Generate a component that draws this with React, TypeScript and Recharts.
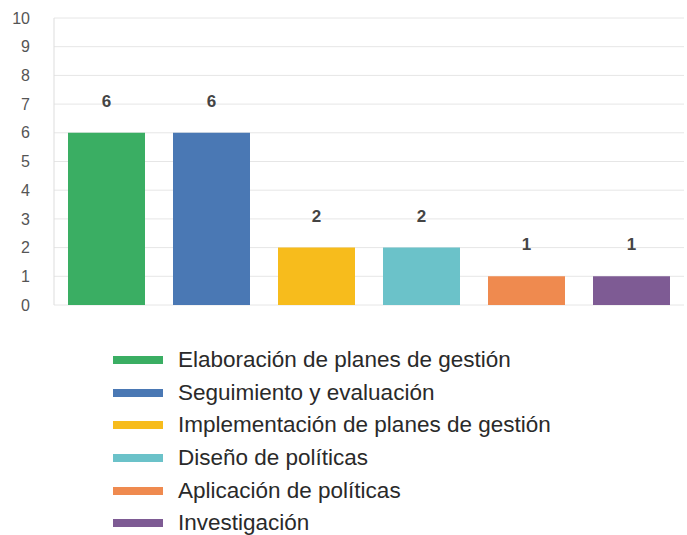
import { BarChart, Bar, XAxis, YAxis, CartesianGrid, Cell, LabelList, Legend } from "recharts";

const categories = [
  "Elaboración de planes de gestión",
  "Seguimiento y evaluación",
  "Implementación de planes de gestión",
  "Diseño de políticas",
  "Aplicación de políticas",
  "Investigación",
];
const values = [6, 6, 2, 2, 1, 1];
const colors = ["#3aae63", "#4a78b4", "#f7bc1c", "#6bc2c9", "#ef8a4f", "#7e5b94"];
const yTicks = [0, 1, 2, 3, 4, 5, 6, 7, 8, 9, 10];

const data = categories.map((name, i) => ({ name, value: values[i] }));

function LegendList() {
  return (
    <div>
      {categories.map((name, i) => (
        <div key={name} style={{ display: "flex", alignItems: "center", height: 32.6 }}>
          <span style={{ display: "inline-block", width: 50, height: 8, background: colors[i], marginRight: 15 }} />
          <span style={{ fontSize: 22.5, color: "#2a2a2a", fontFamily: "'Liberation Sans', Arial, sans-serif" }}>{name}</span>
        </div>
      ))}
    </div>
  );
}

export default function App() {
  return (
    <div style={{ position: "absolute", left: 0, top: 0, background: "#fff" }}>
      <BarChart
        width={687}
        height={535}
        data={data}
        margin={{ top: 18, right: 3, bottom: 230, left: 0 }}
        barCategoryGap={14}
      >
        <CartesianGrid vertical={false} stroke="#e6e6e6" />
        <XAxis dataKey="name" tick={false} tickLine={false} height={0} axisLine={{ stroke: "#b5b5b5" }} />
        <YAxis
          width={54}
          domain={[0, 10]}
          ticks={yTicks}
          interval={0}
          tickLine={false}
          tickSize={0}
          tickMargin={24}
          axisLine={{ stroke: "#dddddd" }}
          tick={{ fill: "#555", fontSize: 16, fontFamily: "'Liberation Sans', Arial, sans-serif" }}
        />
        <Legend
          layout="vertical"
          align="center"
          verticalAlign="middle"
          wrapperStyle={{ left: 113, top: 344, width: 540 }}
          content={() => <LegendList />}
        />
        <Bar dataKey="value" isAnimationActive={false}>
          {data.map((d, i) => (
            <Cell key={d.name} fill={colors[i]} />
          ))}
          <LabelList
            dataKey="value"
            position="top"
            offset={26}
            fill="#444"
            fontSize={17}
            fontWeight={600}
            fontFamily="'Liberation Sans', Arial, sans-serif"
          />
        </Bar>
      </BarChart>
    </div>
  );
}
